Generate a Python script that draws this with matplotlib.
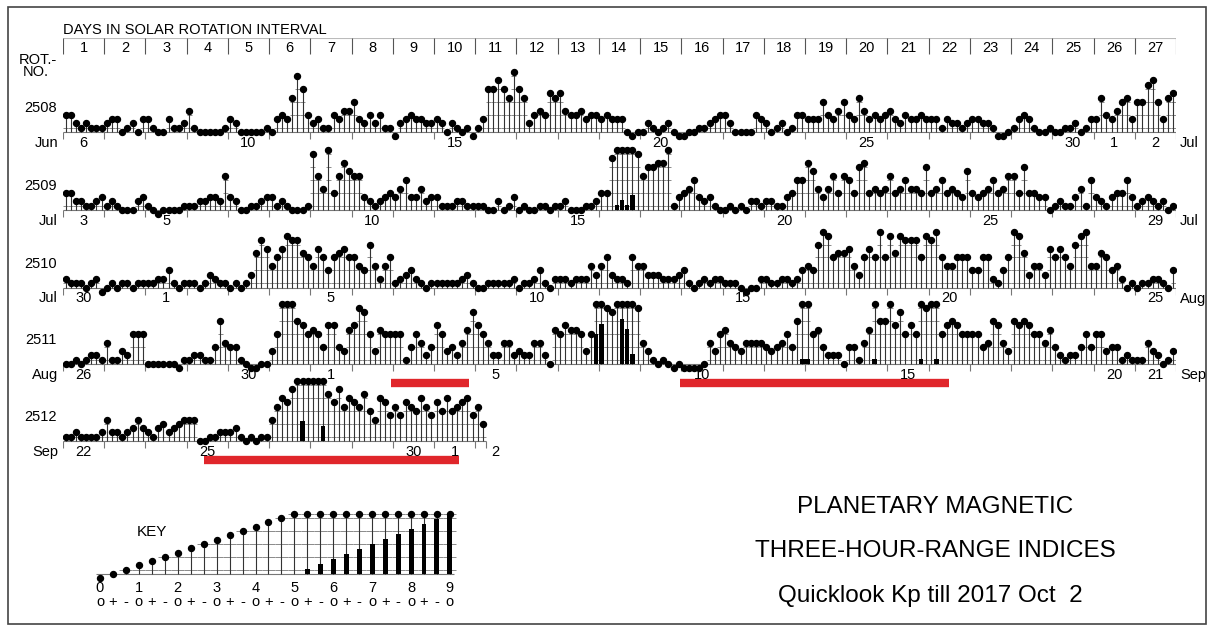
import numpy as np
import matplotlib.pyplot as plt
from matplotlib.patches import Rectangle

plt.rcParams['font.family'] = ['Liberation Sans', 'DejaVu Sans']

# Kp in thirds of a unit: 0 = 0o, 1 = 0+, 2 = 1-, 3 = 1o, ... 27 = 9o
# eight three-hour values per day, 27 days per Bartels rotation
rotations = [2508, 2509, 2510, 2511, 2512]

kp_2508 = [5, 5, 3, 2, 3, 2, 2, 2,  3, 4, 4, 1, 2, 3, 1, 4,  4, 2, 1, 1, 4, 2, 2, 3,
           6, 2, 1, 1, 1, 1, 1, 2,  4, 3, 1, 1, 1, 1, 1, 2,  1, 4, 5, 4, 9, 14, 11, 5,
           3, 4, 2, 2, 5, 4, 6, 6,  8, 4, 3, 5, 3, 5, 2, 2,  0, 3, 4, 5, 4, 4, 3, 3,
           4, 3, 1, 3, 2, 1, 2, 0,  2, 4, 11, 11, 13, 11, 9, 15,  11, 9, 3, 5, 6, 5, 10, 9,
           10, 6, 5, 5, 6, 4, 5, 5,  4, 5, 4, 4, 4, 1, 0, 1,  1, 3, 2, 1, 2, 3, 1, 0,
           0, 1, 1, 2, 2, 3, 4, 5,  5, 3, 1, 1, 1, 1, 5, 4,  3, 1, 2, 3, 1, 2, 5, 5,
           4, 4, 4, 8, 5, 4, 6, 8,  5, 4, 9, 6, 4, 5, 4, 5,  6, 4, 3, 5, 4, 4, 5, 4,
           4, 4, 2, 4, 3, 3, 2, 3,  4, 4, 3, 3, 2, 0, 0, 1,  2, 4, 5, 4, 2, 1, 1, 2,
           1, 1, 2, 2, 3, 1, 2, 4,  4, 9, 5, 4, 6, 8, 9, 4,  8, 8, 12, 13, 8, 4, 9, 10]

kp_2509 = [5, 5, 3, 3, 2, 2, 3, 4,  2, 3, 2, 1, 1, 1, 3, 4,  2, 1, 0, 1, 1, 1, 1, 2,
           2, 2, 3, 3, 4, 4, 3, 9,  4, 3, 1, 1, 2, 2, 3, 4,  4, 2, 3, 2, 1, 1, 1, 2,
           14, 9, 6, 15, 5, 9, 12, 10,  9, 9, 4, 3, 2, 3, 4, 5,  4, 6, 8, 4, 4, 6, 3, 4,
           4, 2, 2, 2, 3, 3, 2, 2,  2, 2, 1, 1, 3, 1, 2, 4,  1, 2, 1, 1, 2, 2, 1, 2,
           2, 3, 1, 1, 1, 2, 2, 3,  5, 5, 13, 16, 17, 16, 18, 14,  9, 11, 11, 12, 12, 15, 2, 4,
           5, 6, 8, 4, 3, 4, 2, 1,  1, 2, 1, 2, 1, 3, 3, 2,  3, 3, 2, 2, 4, 5, 8, 8,
           12, 10, 6, 4, 6, 9, 5, 9,  8, 5, 11, 12, 5, 6, 5, 6,  9, 5, 6, 8, 6, 6, 5, 11,
           5, 6, 8, 5, 6, 5, 4, 10,  5, 4, 5, 6, 8, 5, 6, 9,  9, 5, 11, 5, 5, 4, 4, 1,
           2, 3, 2, 2, 4, 6, 2, 8,  4, 3, 2, 4, 5, 5, 8, 4,  2, 3, 4, 3, 2, 3, 1, 2]

kp_2510 = [3, 2, 2, 2, 1, 2, 3, 0,  1, 2, 1, 2, 2, 1, 2, 2,  2, 2, 3, 3, 5, 2, 1, 2,
           2, 2, 1, 2, 4, 3, 2, 2,  1, 2, 1, 2, 4, 9, 12, 10,  6, 8, 10, 13, 12, 12, 9, 8,
           6, 10, 8, 5, 8, 9, 10, 8,  8, 6, 5, 11, 6, 3, 6, 8,  2, 3, 4, 5, 3, 2, 1, 2,
           2, 2, 2, 2, 2, 3, 4, 2,  1, 1, 2, 2, 2, 2, 2, 3,  1, 2, 2, 3, 5, 2, 1, 3,
           3, 3, 2, 3, 3, 3, 6, 4,  6, 8, 4, 3, 3, 2, 8, 6,  6, 4, 4, 4, 3, 3, 3, 4,
           5, 2, 1, 2, 3, 2, 3, 3,  2, 2, 2, 1, 0, 1, 1, 3,  3, 2, 2, 3, 3, 2, 3, 5,
           6, 5, 11, 14, 13, 8, 9, 9,  10, 6, 4, 8, 10, 8, 14, 8,  13, 9, 13, 12, 12, 12, 8, 13,
           12, 14, 8, 6, 6, 8, 8, 8,  5, 5, 8, 8, 3, 2, 5, 8,  14, 13, 9, 4, 6, 6, 4, 10,
           8, 10, 8, 6, 11, 13, 14, 6,  6, 9, 8, 5, 6, 3, 1, 2,  1, 2, 2, 3, 3, 2, 1, 5]

kp_2511 = [1, 1, 2, 1, 2, 3, 3, 2,  6, 2, 2, 4, 3, 8, 8, 8,  1, 1, 1, 1, 1, 1, 0, 2,
           2, 3, 3, 2, 2, 5, 11, 6,  5, 5, 2, 1, 0, 0, 1, 1,  4, 8, 15, 15, 15, 11, 10, 8,
           9, 8, 5, 10, 10, 5, 4, 9,  10, 14, 13, 8, 4, 9, 8, 8,  8, 8, 2, 5, 8, 6, 3, 5,
           10, 8, 4, 5, 3, 6, 9, 13,  10, 8, 6, 3, 3, 6, 6, 3,  4, 3, 3, 6, 6, 3, 1, 9,
           8, 10, 9, 9, 8, 4, 8, 21,  23, 14, 13, 15, 24, 22, 17, 14,  6, 4, 2, 1, 2, 1, 0, 1,
           0, 0, 0, 0, 1, 6, 4, 8,  9, 6, 5, 4, 6, 6, 6, 6,  5, 4, 5, 6, 8, 5, 11, 16,
           16, 8, 9, 5, 3, 3, 3, 1,  5, 5, 2, 6, 9, 16, 11, 11,  15, 10, 13, 8, 10, 8, 16, 14,
           15, 16, 8, 10, 11, 10, 8, 8,  8, 8, 5, 6, 11, 10, 6, 4,  11, 10, 11, 10, 8, 8, 6, 9,
           5, 3, 2, 3, 3, 5, 8, 5,  8, 8, 4, 5, 5, 2, 3, 2,  2, 2, 6, 4, 3, 1, 2, 4]

kp_2512 = [2, 2, 3, 2, 2, 2, 2, 3,  6, 3, 3, 2, 3, 4, 6, 4,  3, 2, 4, 5, 3, 4, 5, 6,
           6, 6, 1, 1, 2, 2, 3, 3,  3, 4, 2, 1, 2, 1, 2, 2,  6, 9, 11, 10, 13, 15, 19, 15,
           15, 15, 18, 12, 10, 13, 9, 11,  10, 9, 12, 8, 6, 11, 10, 7,  9, 7, 10, 9, 8, 11, 9, 7,
           10, 8, 11, 8, 9, 10, 11, 7,  9, 5]

kp_rows = [kp_2508, kp_2509, kp_2510, kp_2511, kp_2512]

month_left = ["Jun", "Jul", "Jul", "Aug", "Sep"]
month_right = ["Jul", "Jul", "Aug", "Sep", ""]

# (Bartels day, calendar day label)
date_labels = [
    [(1, "6"), (5, "10"), (10, "15"), (15, "20"), (20, "25"), (25, "30"), (26, "1"), (27, "2")],
    [(1, "3"), (3, "5"), (8, "10"), (13, "15"), (18, "20"), (23, "25"), (27, "29")],
    [(1, "30"), (3, "1"), (7, "5"), (12, "10"), (17, "15"), (22, "20"), (27, "25")],
    [(1, "26"), (5, "30"), (7, "1"), (11, "5"), (16, "10"), (21, "15"), (26, "20"), (27, "21")],
    [(1, "22"), (4, "25"), (9, "30"), (10, "1"), (11, "2")],
]

# red marked intervals (start day, end day) per row index
red_rows = [3, 3, 4]
red_start = [7.96, 14.97, 3.42]
red_end = [9.85, 21.5, 9.6]

key_levels = list(range(28))
key_marks = ["o", "+", "-"]

# === LAYOUT ===
W, H = 1214, 631
X0 = 63
DAY_PX = 41.22
U = 4.3              # px per third of Kp
BASES = [132, 210, 287.5, 364, 441]
GRID_LEVELS = [2, 5, 8, 11, 14, 15]
CAP = 15             # dots stop rising at 5o, bars show the excess
BAR_SCALE = 14 / 12  # 9o bar reaches the cap

fig = plt.figure(figsize=(W / 100, H / 100), dpi=100)


def ftext(px, py, s, **kw):
    fig.text(px / W, 1 - py / H, s, **kw)


def draw_music(ax, xs, vals, dx, bar_w, dot_ms):
    vals = np.asarray(vals)
    disp = np.minimum(vals, CAP)
    for L in GRID_LEVELS:
        m = disp >= L
        ax.hlines([L] * m.sum(), xs[m] - dx / 2, xs[m] + dx / 2, color="#8a8a8a", lw=0.7, zorder=1)
    m = disp > 1
    ax.vlines(xs[m], 1, disp[m], color="#333333", lw=0.8, zorder=2)
    m = vals > CAP
    ax.bar(xs[m], (vals[m] - CAP) * BAR_SCALE, bottom=1, width=bar_w, color="black", zorder=3)
    ax.plot(xs, disp, "o", color="black", ms=dot_ms, mec="black", zorder=4)


# === ROWS ===
for r, vals in enumerate(kp_rows):
    base = BASES[r]
    ax = fig.add_axes([X0 / W, 1 - (base + 7 * U) / H, 27 * DAY_PX / W, 24 * U / H])
    ax.set_xlim(0, 27)
    ax.set_ylim(-6, 18)
    ax.axis("off")
    n = len(vals)
    xs = (np.arange(n) + 0.5) / 8
    end = min(27, n / 8)
    ax.hlines(1, 0, end, color="#777777", lw=0.8, zorder=1)
    days = np.arange(0, int(np.floor(end)) + 1)
    if end < 27:
        days = np.append(days, end)
    ax.vlines(days, 1 - 7 / U, 1, color="#777777", lw=0.8)
    draw_music(ax, xs, vals, 1 / 8, 0.105, 4.3)

    for i in range(len(red_rows)):
        if red_rows[i] == r:
            ax.hlines(1 - 19 / U, red_start[i], red_end[i], color="#e0262b", lw=6, zorder=2)

    ftext(57, base - 24, str(rotations[r]), ha="right", va="center", fontsize=10.5)
    ftext(58, base + 11, month_left[r], ha="right", va="center", fontsize=10.5)
    if month_right[r]:
        ftext(1180, base + 11, month_right[r], ha="left", va="center", fontsize=10.5)
    for d, lab in date_labels[r]:
        ftext(X0 + (d - 0.5) * DAY_PX, base + 11, lab, ha="center", va="center", fontsize=10.5)

# === HEADER ===
hx = fig.add_axes([X0 / W, 1 - 56 / H, 27 * DAY_PX / W, 18 / H])
hx.set_xlim(0, 27)
hx.set_ylim(0, 1)
hx.axis("off")
hx.hlines(1, 0, 27, color="#bbbbbb", lw=0.8)
hx.vlines(np.arange(28), 0.1, 1, color="#555555", lw=0.8)
for d in range(1, 28):
    hx.text(d - 0.5, 0.45, str(d), ha="center", va="center", fontsize=10.5)
ftext(63, 30, "DAYS IN SOLAR ROTATION INTERVAL", ha="left", va="center", fontsize=10.5)
ftext(38, 60, "ROT.-", ha="center", va="center", fontsize=10.5)
ftext(36, 72, "NO.", ha="center", va="center", fontsize=10.5)

# === KEY ===
KX0 = 100
KSTEP = 12.96
KBASE = 574
kx = fig.add_axes([(KX0 - KSTEP) / W, 1 - (KBASE + 7 * U) / H, 29 * KSTEP / W, 24 * U / H])
kx.set_xlim(-1, 28)
kx.set_ylim(-6, 18)
kx.axis("off")
kvals = np.array(key_levels)
kx.hlines(1, -0.3, 27.3, color="#777777", lw=0.8)
draw_music(kx, kvals.astype(float), kvals, 1.0, 0.38, 4.3)
ftext(152, 532, "KEY", ha="center", va="center", fontsize=11)
for lv in key_levels:
    px = KX0 + lv * KSTEP
    if lv % 3 == 0:
        ftext(px, 588, str(lv // 3), ha="center", va="center", fontsize=10.5)
    ftext(px, 602, key_marks[lv % 3], ha="center", va="center", fontsize=10.5)

# === TITLE ===
ftext(935, 507, "PLANETARY MAGNETIC", ha="center", va="center", fontsize=17.5)
ftext(935, 551, "THREE-HOUR-RANGE INDICES", ha="center", va="center", fontsize=17.5)
ftext(930, 596, "Quicklook Kp till 2017 Oct  2", ha="center", va="center", fontsize=17.5)

fig.patches.append(Rectangle((8 / W, 1 - 624 / H), 1198 / W, 617 / H, fill=False,
                             ec="#444444", lw=1.2, transform=fig.transFigure))

fig.savefig("out.png", dpi=100)
